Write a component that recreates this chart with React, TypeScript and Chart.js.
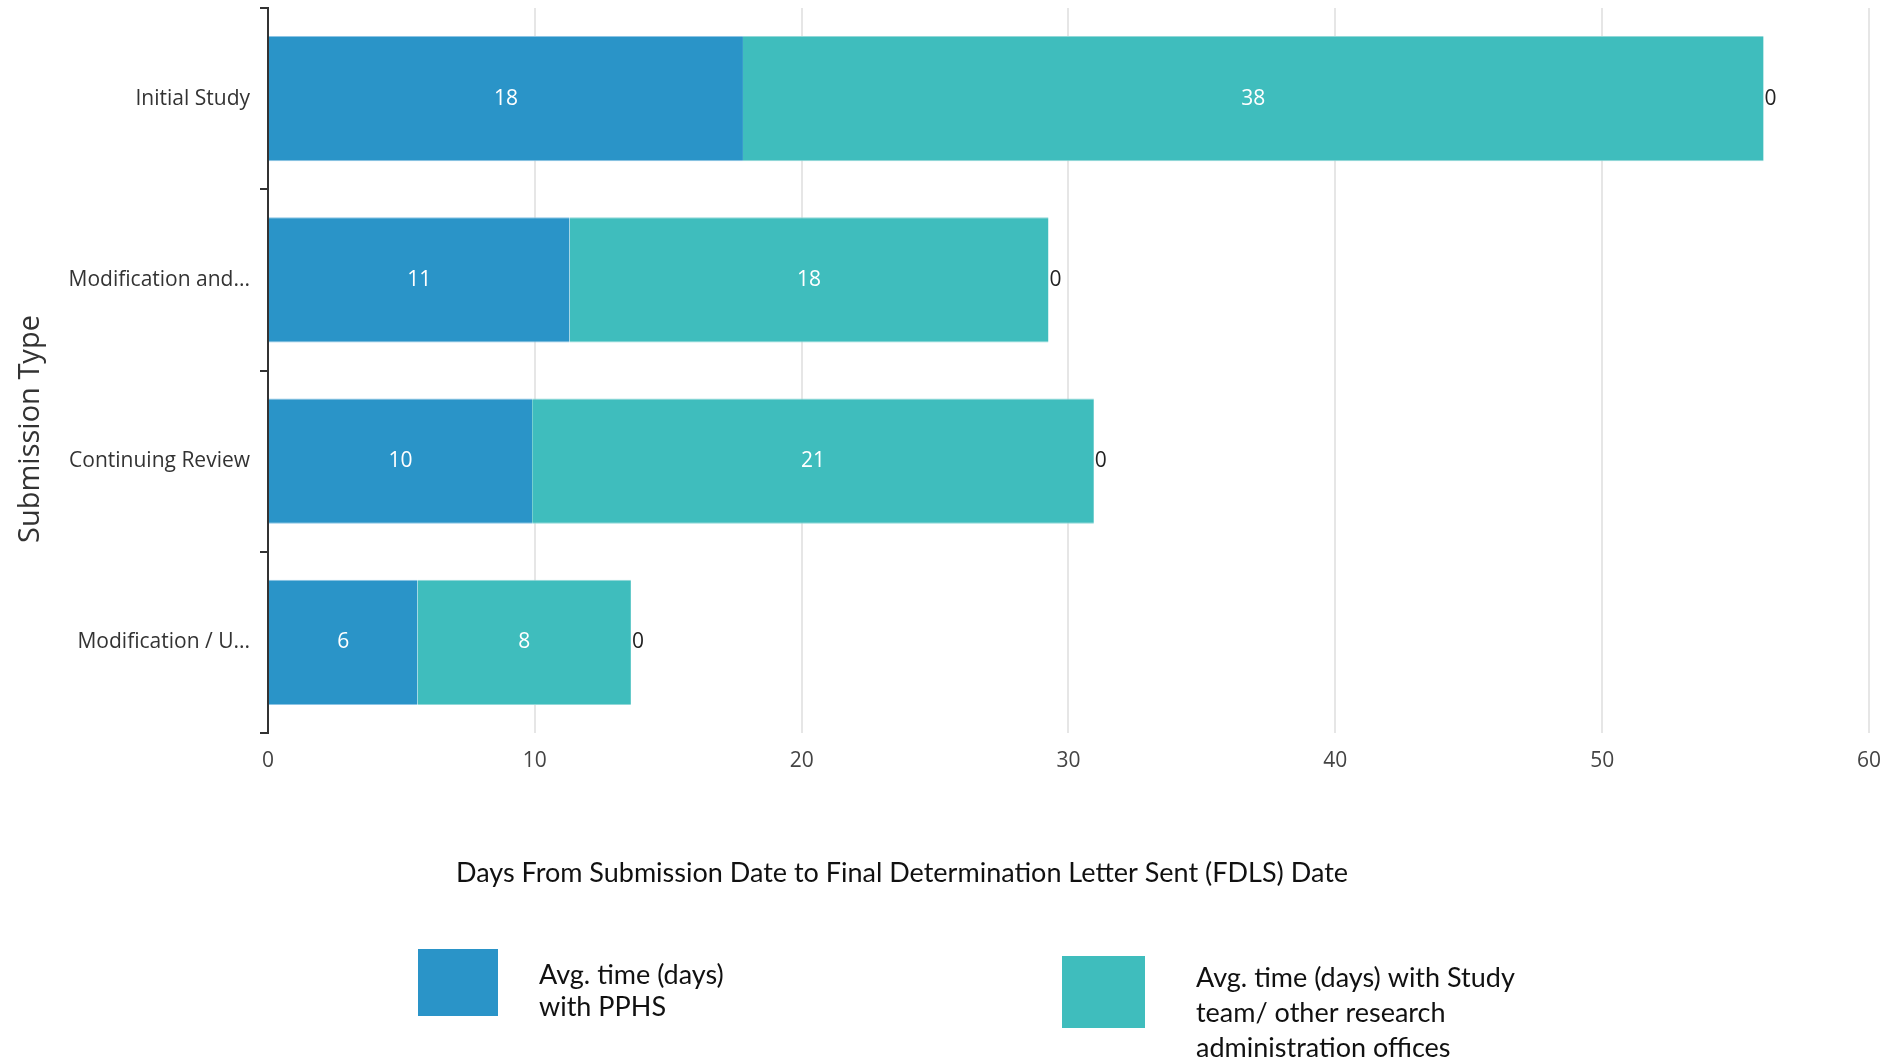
import React, { useEffect, useRef } from "react";
import { Chart, registerables } from "chart.js";

Chart.register(...registerables);

// ---- data ----
const categories = ["Initial Study", "Modification and...", "Continuing Review", "Modification / U..."];
const pphsDays = [17.8, 11.3, 9.9, 5.6];
const studyTeamDays = [38.25, 17.95, 21.05, 8.0];
const endValues = [0, 0, 0, 0];
const xMin = 0;
const xMax = 60;
const xStep = 10;
const pphsLegend = ["Avg. time (days)", "with PPHS"];
const studyLegend = ["Avg. time (days) with Study", "team/ other research", "administration offices"];
const xTitle = "Days From Submission Date to Final Determination Letter Sent (FDLS) Date";
const yTitle = "Submission Type";

// ---- styles ----
const BLUE = "#2a94c8";
const TEAL = "#3fbdbd";
const BLUE_EDGE = "#8cc4e4";
const TEAL_EDGE = "#92d8d8";
const W = 1896;
const H = 1062;
const CHART_FONT = "'Open Sans', 'Noto Sans', sans-serif";
const NOTE_FONT = "Lato, 'Liberation Sans', sans-serif";

const legendLayout = [
  { box: [418, 949, 80, 67], textX: 539, firstY: 975, lineGap: 32 },
  { box: [1062, 956, 83, 72], textX: 1196, firstY: 978, lineGap: 35 },
];
const xTitlePos = { x: 902, y: 873 };
const yTitlePos = { x: 31, y: 429 };

const valueLabelPlugin = {
  id: "valueLabels",
  afterDatasetsDraw(chart: any) {
    const ctx = chart.ctx;
    ctx.save();
    ctx.font = `21px ${CHART_FONT}`;
    ctx.textBaseline = "middle";
    chart.data.datasets.forEach((ds: any, di: number) => {
      const meta = chart.getDatasetMeta(di);
      meta.data.forEach((el: any, i: number) => {
        const v = ds.data[i];
        if (di < 2) {
          ctx.fillStyle = "#ffffff";
          ctx.textAlign = "center";
          ctx.fillText(String(Math.round(v)), (el.x + el.base) / 2, el.y);
        } else {
          ctx.fillStyle = "#222222";
          ctx.textAlign = "left";
          ctx.fillText(String(Math.round(v)), el.x + 1, el.y);
        }
      });
    });
    ctx.restore();
  },
};

const annotationPlugin = {
  id: "titlesAndLegend",
  afterDraw(chart: any) {
    const ctx = chart.ctx;
    ctx.save();
    // axis titles
    ctx.fillStyle = "#111111";
    ctx.font = `27px ${NOTE_FONT}`;
    ctx.textAlign = "center";
    ctx.textBaseline = "middle";
    ctx.fillText(xTitle, xTitlePos.x, xTitlePos.y);

    ctx.save();
    ctx.translate(yTitlePos.x, yTitlePos.y);
    ctx.rotate(-Math.PI / 2);
    ctx.fillStyle = "#333333";
    ctx.font = `29px ${CHART_FONT}`;
    ctx.fillText(yTitle, 0, 0);
    ctx.restore();

    // legend
    const items = [
      { color: BLUE, lines: pphsLegend },
      { color: TEAL, lines: studyLegend },
    ];
    items.forEach((it, k) => {
      const L = legendLayout[k];
      ctx.fillStyle = it.color;
      ctx.fillRect(L.box[0], L.box[1], L.box[2], L.box[3]);
      ctx.fillStyle = "#111111";
      ctx.font = `27px ${NOTE_FONT}`;
      ctx.textAlign = "left";
      ctx.textBaseline = "middle";
      it.lines.forEach((line, j) => {
        ctx.fillText(line, L.textX, L.firstY + j * L.lineGap);
      });
    });
    ctx.restore();
  },
};

export default function App() {
  const ref = useRef<HTMLCanvasElement | null>(null);

  useEffect(() => {
    document.body.style.margin = "0";
    const canvas = ref.current;
    if (!canvas) return;
    const barCommon = {
      categoryPercentage: 1,
      barPercentage: 0.69,
      borderWidth: { top: 1, bottom: 1, left: 0, right: 0 },
      borderSkipped: false,
    };
    const chart = new Chart(canvas, {
      type: "bar",
      data: {
        labels: categories,
        datasets: [
          {
            label: pphsLegend.join(" "),
            data: pphsDays,
            backgroundColor: BLUE,
            borderColor: BLUE_EDGE,
            ...barCommon,
          },
          {
            label: studyLegend.join(" "),
            data: studyTeamDays,
            backgroundColor: TEAL,
            borderColor: TEAL_EDGE,
            ...barCommon,
          },
          {
            label: "end",
            data: endValues,
            backgroundColor: "rgba(0,0,0,0)",
            borderColor: "rgba(0,0,0,0)",
            ...barCommon,
          },
        ],
      },
      options: {
        indexAxis: "y",
        responsive: false,
        animation: false,
        devicePixelRatio: 1,
        layout: { padding: { top: 8, right: W - 1870, left: 0, bottom: 0 } },
        plugins: {
          legend: { display: false },
          tooltip: { enabled: false },
        },
        scales: {
          x: {
            stacked: true,
            min: xMin,
            max: xMax,
            ticks: {
              stepSize: xStep,
              color: "#444444",
              font: { family: CHART_FONT, size: 21 },
              padding: 15,
            },
            grid: {
              color: "#e6e6e6",
              lineWidth: 2,
              drawTicks: false,
            },
            border: { display: false },
            afterFit(scale: any) {
              scale.height = H - 733;
            },
          },
          y: {
            stacked: true,
            ticks: {
              color: "#333333",
              font: { family: CHART_FONT, size: 21 },
              padding: 10,
            },
            grid: {
              offset: true,
              drawOnChartArea: false,
              drawTicks: true,
              tickLength: 8,
              color: "#333333",
              lineWidth: 2,
            },
            border: { display: true, color: "#333333", width: 2 },
            afterFit(scale: any) {
              scale.width = 268;
              scale.paddingTop = 0;
              scale.paddingBottom = 0;
            },
          },
        },
      },
      plugins: [valueLabelPlugin, annotationPlugin],
    } as any);
    return () => chart.destroy();
  }, []);

  return (
    <div style={{ position: "absolute", left: 0, top: 0, width: W, height: H, background: "#ffffff" }}>
      <canvas ref={ref} width={W} height={H} style={{ display: "block" }} />
    </div>
  );
}
